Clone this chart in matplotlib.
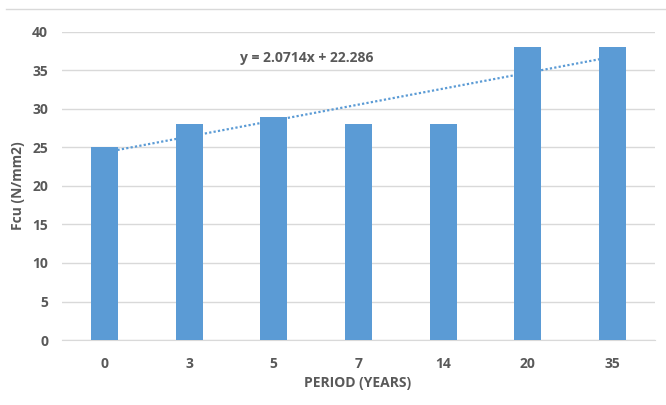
import matplotlib
matplotlib.use("Agg")
import matplotlib.pyplot as plt
import numpy as np
from matplotlib.lines import Line2D

categories = ["0", "3", "5", "7", "14", "20", "35"]
values = [25, 28, 29, 28, 28, 38, 38]
y_ticks = [0, 5, 10, 15, 20, 25, 30, 35, 40]
slope = 2.0714
intercept = 22.286

plt.rcParams['font.family'] = ['Open Sans', 'DejaVu Sans']
txt = "#595959"
fig = plt.figure(figsize=(6.66, 4.05), dpi=100)
ax = fig.add_axes([62/666, 1-340/405, 593/666, 308/405])

x = np.arange(len(categories))
ax.bar(x, values, width=0.32, color="#5B9BD5", zorder=3)

xt = x + 1
trend = slope * xt + intercept
ax.plot(x, trend, linestyle=(0, (1, 1)), color="#5B9BD5", linewidth=1.6, zorder=4)

ax.set_xlim(-0.5, len(categories) - 0.5)
ax.set_ylim(0, 40)
ax.set_yticks(y_ticks)
ax.set_xticks(x)
ax.set_xticklabels(categories)
ax.yaxis.grid(True, color="#D9D9D9", linewidth=1)
ax.set_axisbelow(True)
for s in ["top", "right", "left"]:
    ax.spines[s].set_visible(False)
ax.spines["bottom"].set_color("#D9D9D9")
ax.tick_params(axis="both", length=0, colors=txt, labelsize=10)
ax.tick_params(axis="x", pad=12)
ax.tick_params(axis="y", pad=10)
for lab in ax.get_xticklabels() + ax.get_yticklabels():
    lab.set_fontweight("bold")

fig.text(358/666, 1-383/405, "PERIOD (YEARS)", ha="center", va="center",
         color=txt, fontsize=10, fontweight="bold")
fig.text(18/666, 1-186/405, "Fcu (N/mm2)", ha="center", va="center", rotation=90,
         color=txt, fontsize=10, fontweight="bold")
fig.text(307/666, 1-58/405, "y = 2.0714x + 22.286", ha="center", va="center",
         color=txt, fontsize=10, fontweight="bold")

fig.add_artist(Line2D([6/666, 1], [1-9/405, 1-9/405], color="#D9D9D9", linewidth=1,
                      transform=fig.transFigure))

fig.savefig("out.png", dpi=100)
